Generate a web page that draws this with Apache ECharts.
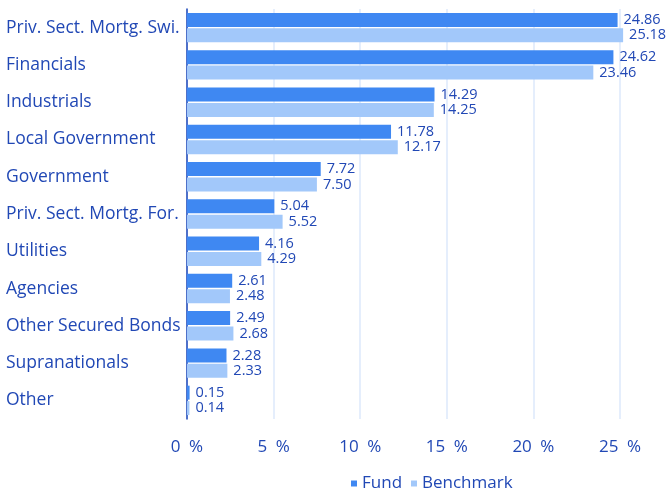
<!DOCTYPE html>
<html lang="en">
<head>
    <meta charset="utf-8"/>
    <title>Sector allocation</title>
    <script src="https://cdn.jsdelivr.net/npm/echarts@6/dist/echarts.min.js"></script>
</head>
<body style="margin: 0;">
<div id="chart" style="width: 670px;height:491px;"></div>
<script type="text/javascript">
    const sectors = [
        'Priv. Sect. Mortg. Swi.', 'Financials', 'Industrials', 'Local Government',
        'Government', 'Priv. Sect. Mortg. For.', 'Utilities', 'Agencies',
        'Other Secured Bonds', 'Supranationals', 'Other'
    ];
    const fund = [24.86, 24.62, 14.29, 11.78, 7.72, 5.04, 4.16, 2.61, 2.49, 2.28, 0.15];
    const benchmark = [25.18, 23.46, 14.25, 12.17, 7.50, 5.52, 4.29, 2.48, 2.68, 2.33, 0.14];

    const textColor = '#2148b5';
    const font = '"Open Sans", "Noto Sans", sans-serif';

    let chart = echarts.init(document.getElementById('chart'));
    chart.setOption({
        animation: false,
        textStyle: {fontFamily: font},
        grid: {left: 187, top: 9, width: 433, height: 410, containLabel: false},
        legend: {
            left: 346,
            top: 470,
            itemWidth: 6,
            itemHeight: 6,
            itemGap: 9,
            icon: 'rect',
            textStyle: {color: textColor, fontSize: 17, fontFamily: font},
            data: ['Fund', 'Benchmark']
        },
        xAxis: {
            type: 'value',
            min: 0,
            max: 25,
            interval: 5,
            axisLine: {show: false},
            axisTick: {show: false},
            axisLabel: {
                color: textColor, fontSize: 17, margin: 20,
                formatter: v => v + '\u2002%'
            },
            splitLine: {lineStyle: {color: '#dde9fb', width: 1.5}}
        },
        yAxis: {
            type: 'category',
            data: sectors,
            inverse: true,
            axisLine: {show: true, lineStyle: {color: '#1d46b8', width: 1.5}},
            axisTick: {show: false},
            axisLabel: {
                color: textColor, fontSize: 17.5, align: 'left', margin: 181,
                padding: [7, 0, 0, 0]
            }
        },
        series: [
            {
                name: 'Fund',
                type: 'bar',
                data: fund,
                barWidth: 14,
                barGap: '10%',
                clip: false,
                itemStyle: {color: '#3f88f2'},
                label: {
                    show: true, position: 'right', distance: 6,
                    color: textColor, fontSize: 14.5,
                    formatter: p => p.value.toFixed(2)
                }
            },
            {
                name: 'Benchmark',
                type: 'bar',
                data: benchmark,
                barWidth: 14,
                barGap: '10%',
                clip: false,
                itemStyle: {color: '#a2c8fa'},
                label: {
                    show: true, position: 'right', distance: 6,
                    color: textColor, fontSize: 14.5,
                    formatter: p => p.value.toFixed(2)
                }
            }
        ]
    });
</script>
</body>
</html>
